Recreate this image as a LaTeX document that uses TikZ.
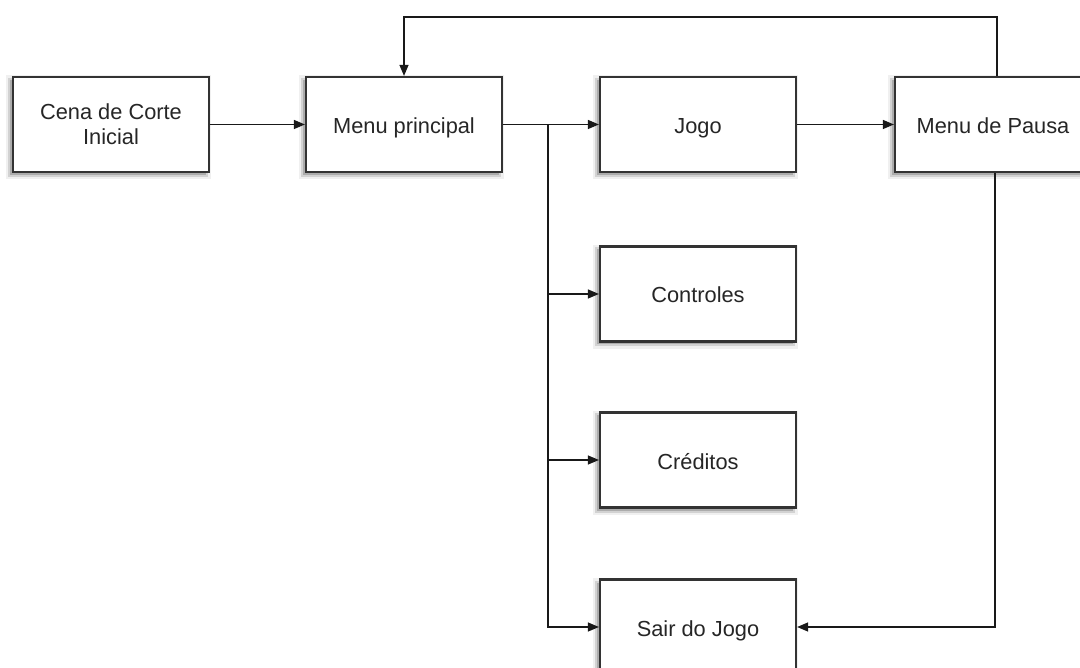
\documentclass[tikz,border=0pt]{standalone}
\usepackage{fontspec}
\setmainfont{Liberation Sans}
\usetikzlibrary{arrows.meta}
\begin{document}
\begin{tikzpicture}[x=1pt,y=-1pt,
 box/.style={draw=black!80, line width=2.2pt, fill=white, minimum width=196pt, minimum height=95pt,
   inner sep=0pt, align=center, font=\fontsize{21.8}{25}\selectfont, text=black!85,
   preaction={draw=black, draw opacity=0.06, line width=9pt, transform canvas={shift={(-3pt,-3pt)}}},
   preaction={fill=black, fill opacity=0.18, draw=black, draw opacity=0.12, line width=4pt,
   transform canvas={shift={(-3pt,-3pt)}}}},
 one/.style={text height=19pt, text depth=1pt},
 conn/.style={line width=1.3pt, draw=black!90, -{Triangle[length=11pt,width=9pt]}}]
\useasboundingbox (0,0) rectangle (1080,668);
\clip (0,0) rectangle (1080,668);
\fill[white] (0,0) rectangle (1080,668);
\node[box] (cena) at (111,124.5) {Cena de Corte\\Inicial};
\node[box, one] (mp) at (404,124.5) {Menu principal};
\node[box, one] (jogo) at (698,124.5) {Jogo};
\node[box, one] (pausa) at (993,124.5) {Menu de Pausa};
\node[box, one] (ctrl) at (698,294) {Controles};
\node[box, one] (cred) at (698,460) {Créditos};
\node[box, one] (sair) at (698,627) {Sair do Jogo};
\coordinate (br) at (548,124.5);
\coordinate (top) at (997,17);
\draw[conn] (cena) -- (mp);
\draw[conn] (mp) -- (jogo);
\draw[conn] (jogo) -- (pausa);
\draw[conn] (br) |- (ctrl.west);
\draw[conn] (br) |- (cred.west);
\draw[conn] (br) |- (sair.west);
\draw[conn] ([xshift=4pt]pausa.north) -- (top) -| (mp.north);
\draw[conn] ([xshift=2pt]pausa.south) |- (sair.east);
\end{tikzpicture}
\end{document}
